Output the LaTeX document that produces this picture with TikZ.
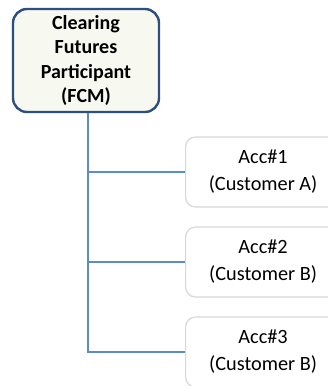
\documentclass[tikz,border=0pt]{standalone}
\usepackage{fontspec}
\setmainfont{Carlito}
\definecolor{topborder}{HTML}{2D4F80}
\definecolor{topfill}{HTML}{F7F9F1}
\definecolor{linkblue}{HTML}{5A8CC6}
\definecolor{accborder}{HTML}{D8D8D8}
\begin{document}
\begin{tikzpicture}[x=1pt,y=-1pt,
  fcmbox/.style={draw=topborder, line width=2.4pt, fill=topfill, rounded corners=14pt,
    minimum width=146pt, minimum height=103pt, inner sep=0pt, align=center,
    font=\fontsize{20pt}{24.3pt}\selectfont\bfseries},
  accbox/.style={draw=accborder, line width=1.2pt, fill=white, rounded corners=10pt,
    minimum width=155pt, minimum height=70pt, inner sep=0pt, align=center,
    font=\fontsize{20.3pt}{27pt}\selectfont},
  link/.style={draw=linkblue, line width=1.5pt}]
\useasboundingbox (0,0) rectangle (328,386);
\clip (0,0) rectangle (328,386);
\node[fcmbox] (fcm) at (86,60.5) {Clearing\\Futures\\Participant\\(FCM)};
\node[accbox, anchor=west] (a1) at (185,172) {Acc\#1\\(Customer A)};
\node[accbox, anchor=west] (a2) at (185,262) {Acc\#2\\(Customer B)};
\node[accbox, anchor=west] (a3) at (185,352) {Acc\#3\\(Customer B)};
\coordinate (b1) at (88,172);
\coordinate (b2) at (88,262);
\coordinate (b3) at (88,352);
\draw[link] (fcm.south -| b1) -- (b3) -- (a3.west);
\draw[link] (b1) -- (a1.west);
\draw[link] (b2) -- (a2.west);
\end{tikzpicture}
\end{document}
